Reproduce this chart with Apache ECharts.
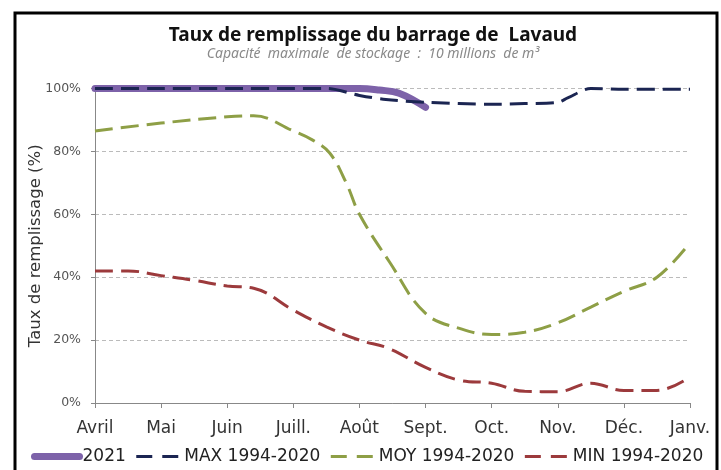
<!DOCTYPE html>
<html>
<head>
<meta charset="utf-8">
<script src="https://cdn.jsdelivr.net/npm/echarts@6/dist/echarts.min.js"></script>
<style>
  html, body { margin: 0; padding: 0; background: #fff; }
  #chart { width: 721px; height: 470px; }
</style>
</head>
<body>
<div id="chart"></div>
<script>
// month labels, x = month index from Avril
var months = ["Avril", "Mai", "Juin", "Juill.", "Août", "Sept.", "Oct.", "Nov.", "Déc.", "Janv."];
var yTicks = [0, 20, 40, 60, 80, 100];

// [month position, %]
var serie2021 = [[0, 100], [1, 100], [2, 100], [3, 100], [4, 100], [4.3, 99.5], [4.6, 98.5], [5, 94]];
var serieMax = [[0, 100], [1, 100], [2, 100], [3, 100], [3.5, 100], [4, 97.8], [4.4, 96.5], [5, 95.6], [6, 95], [6.5, 95.2], [7, 95.6], [7.15, 97], [7.5, 100], [8, 99.8], [8.5, 99.8], [9, 99.8]];
var serieMoy = [[0, 86.5], [1, 89], [2, 91], [2.4, 91.3], [3, 86.5], [3.3, 83.5], [3.55, 79.5], [3.8, 70], [4, 60], [4.45, 45], [5, 28.5], [5.55, 23.5], [6, 21.8], [6.5, 22.5], [7, 25.5], [7.5, 30.5], [8, 35.5], [8.5, 40], [9, 51]];
var serieMin = [[0, 42], [0.5, 42], [1, 40.5], [1.5, 39], [2, 37.2], [2.4, 36.5], [3, 29.5], [3.5, 24.2], [4, 20], [4.45, 17.3], [5, 11.3], [5.5, 7.3], [6, 6.3], [6.5, 3.7], [7, 3.6], [7.5, 6.3], [8, 4], [8.5, 4], [9, 8.3]];

var chart = echarts.init(document.getElementById("chart"));

var dashed = [18, 8];
var legendDash = [16, 10];

var option = {
  backgroundColor: "#fff",
  animation: false,
  textStyle: { fontFamily: "DejaVu Sans" },
  title: {
    text: "Taux de remplissage du barrage de  Lavaud",
    subtext: "Capacité  maximale  de stockage  :  10 millions  de m³",
    left: 368,
    textAlign: "center",
    top: 21,
    itemGap: 2,
    textStyle: { fontFamily: "Noto Sans", fontWeight: "bold", fontSize: 19, color: "#111" },
    subtextStyle: { fontFamily: "Noto Sans", fontStyle: "italic", fontSize: 14, color: "#8a8a8a" }
  },
  graphic: [
    {
      type: "rect",
      shape: { x: 15, y: 13, width: 702, height: 480 },
      style: { fill: null, stroke: "#000", lineWidth: 3 }
    }
  ],
  grid: { left: 95, right: 31, top: 88.5, bottom: 67 },
  legend: {
    bottom: 0,
    left: 26,
    width: 694,
    itemWidth: 45,
    itemHeight: 10,
    itemGap: 9,
    itemStyle: { opacity: 0 },
    textStyle: { fontSize: 17, color: "#222", fontFamily: "DejaVu Sans", padding: [0, 0, 0, -2] },
    data: [
      { name: "2021", lineStyle: { width: 7, cap: "round" } },
      { name: "MAX 1994-2020", lineStyle: { type: legendDash, width: 3 } },
      { name: "MOY 1994-2020", lineStyle: { type: legendDash, width: 3 } },
      { name: "MIN 1994-2020", lineStyle: { type: legendDash, width: 3 } }
    ]
  },
  xAxis: {
    type: "value",
    min: 0,
    max: 9,
    interval: 1,
    splitLine: { show: false },
    axisLine: { lineStyle: { color: "#888" } },
    axisTick: { show: true, length: 5, lineStyle: { color: "#888" } },
    axisLabel: {
      fontSize: 17,
      color: "#333",
      margin: 17,
      formatter: function(v) { return months[v]; }
    }
  },
  yAxis: {
    type: "value",
    min: yTicks[0],
    max: yTicks[yTicks.length - 1],
    interval: 20,
    name: "Taux de remplissage (%)",
    nameLocation: "middle",
    nameGap: 51,
    nameMoveOverlap: false,
    nameTextStyle: { fontSize: 16.5, color: "#333" },
    axisLine: { show: true, lineStyle: { color: "#888" } },
    axisTick: { show: true, length: 4, lineStyle: { color: "#888" } },
    splitLine: { lineStyle: { type: [4, 3], color: "#bbb" } },
    axisLabel: {
      fontSize: 12.5,
      color: "#555",
      margin: 14,
      formatter: "{value}%"
    }
  },
  series: [
    {
      name: "MIN 1994-2020",
      type: "line",
      smooth: 0.4,
      symbol: "none",
      z: 2,
      lineStyle: { color: "#9c3a3c", width: 3, type: dashed },
      itemStyle: { color: "#9c3a3c" },
      data: serieMin
    },
    {
      name: "MOY 1994-2020",
      type: "line",
      smooth: 0.4,
      symbol: "none",
      z: 2,
      lineStyle: { color: "#8e9f46", width: 3, type: dashed },
      itemStyle: { color: "#8e9f46" },
      data: serieMoy
    },
    {
      name: "2021",
      type: "line",
      smooth: 0.4,
      symbol: "none",
      z: 3,
      lineStyle: { color: "#7d62a9", width: 7, cap: "round" },
      itemStyle: { color: "#7d62a9" },
      data: serie2021
    },
    {
      name: "MAX 1994-2020",
      type: "line",
      smooth: 0.3,
      symbol: "none",
      z: 4,
      lineStyle: { color: "#1b2552", width: 3, type: dashed },
      itemStyle: { color: "#1b2552" },
      data: serieMax
    }
  ]
};

chart.setOption(option);
</script>
</body>
</html>
